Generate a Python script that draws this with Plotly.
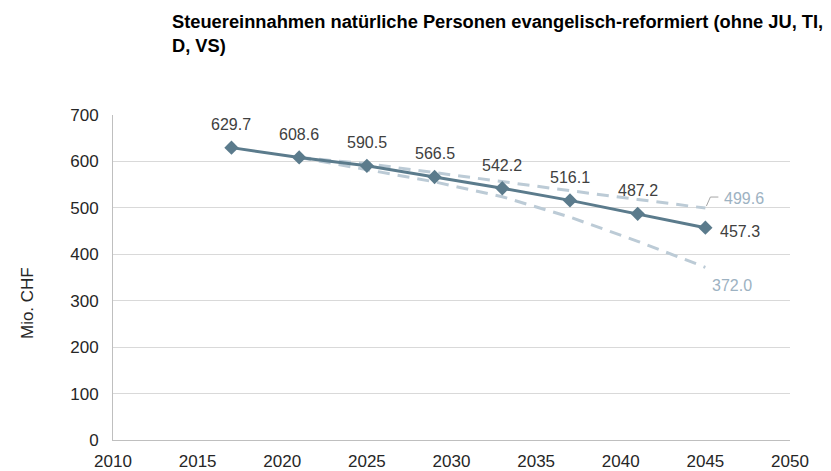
import plotly.graph_objects as go

# Daten (Mio. CHF)
years = [2017, 2021, 2025, 2029, 2033, 2037, 2041, 2045]
base = [629.7, 608.6, 590.5, 566.5, 542.2, 516.1, 487.2, 457.3]

scen_years = [2021, 2025, 2029, 2033, 2037, 2041, 2045]
upper = [608.6, 595.0, 576.0, 556.0, 537.0, 518.0, 499.6]
lower = [608.6, 582.0, 556.0, 524.0, 480.0, 428.0, 372.0]

x_ticks = [2010, 2015, 2020, 2025, 2030, 2035, 2040, 2045, 2050]
y_ticks = [0, 100, 200, 300, 400, 500, 600, 700]

main_col = "#5b7b8c"
dash_col = "#bccbd6"
dash_lab = "#9db2c2"
font_fam = "Liberation Sans, Arial, sans-serif"

fig = go.Figure()
for ys in (upper, lower):
    fig.add_trace(go.Scatter(x=scen_years, y=ys, mode="lines",
                             line=dict(color=dash_col, width=3, dash="12px,8px"),
                             hoverinfo="skip", showlegend=False))
fig.add_trace(go.Scatter(x=years, y=base, mode="lines+markers",
                         line=dict(color=main_col, width=3),
                         marker=dict(symbol="diamond", size=11, color=main_col),
                         showlegend=False))

anns = []
for x, y in zip(years[:-1], base[:-1]):
    anns.append(dict(x=x, y=y, text=f"{y:.1f}", showarrow=False, yshift=23,
                     font=dict(size=16, color="#404040")))
anns.append(dict(x=years[-1], y=base[-1], text=f"{base[-1]:.1f}", showarrow=False,
                 xanchor="left", xshift=13, yshift=-4, font=dict(size=16, color="#404040")))
anns.append(dict(x=scen_years[-1], y=upper[-1], text=f"{upper[-1]:.1f}", showarrow=False,
                 xanchor="left", xshift=17, yshift=10, font=dict(size=16, color=dash_lab)))
anns.append(dict(x=scen_years[-1], y=lower[-1], text=f"{lower[-1]:.1f}", showarrow=False,
                 xshift=27, yshift=-18, font=dict(size=16, color=dash_lab)))
# y axis title
anns.append(dict(xref="paper", yref="paper", x=-0.127, y=0.42, xshift=-11, text="Mio. CHF",
                 textangle=-90, showarrow=False, font=dict(size=17, color="#262626")))
# title
anns.append(dict(xref="paper", yref="paper", x=(162 - 105) / 677, y=1, xanchor="left",
                 yanchor="top", yshift=107 - 1, align="left", showarrow=False,
                 text="<b>Steuereinnahmen natürliche Personen evangelisch-reformiert (ohne JU, TI,<br>D, VS)</b>",
                 font=dict(size=18.3, color="black")))
fig.update_layout(annotations=anns)

# leader line for upper label
fig.add_shape(type="path", xref="x", yref="y", xsizemode="pixel", ysizemode="pixel",
              xanchor=scen_years[-1], yanchor=upper[-1],
              path="M 1,2 L 5,11 L 13,11", line=dict(color="#a6a6a6", width=1))

# page body has an 8px margin, so the figure is sized/offset for it
fig.update_layout(
    width=823, height=463,
    margin=dict(l=105, r=41, t=107, b=31),
    paper_bgcolor="white", plot_bgcolor="white",
    font=dict(family=font_fam, color="#262626"),
)
fig.update_xaxes(range=[2010, 2050], tickvals=x_ticks, showgrid=False, zeroline=False,
                 showline=True, linecolor="#bfbfbf", linewidth=1, ticks="",
                 ticklabelstandoff=6, automargin=False,
                 tickfont=dict(size=17, color="#262626"))
fig.update_yaxes(range=[0, 700], tickvals=y_ticks, showgrid=True, gridcolor="#d9d9d9",
                 gridwidth=1, zeroline=False, showline=True, linecolor="#bfbfbf",
                 linewidth=1, ticks="", ticklabelstandoff=10, automargin=False,
                 tickfont=dict(size=17, color="#262626"))

fig.write_html("out.html")
